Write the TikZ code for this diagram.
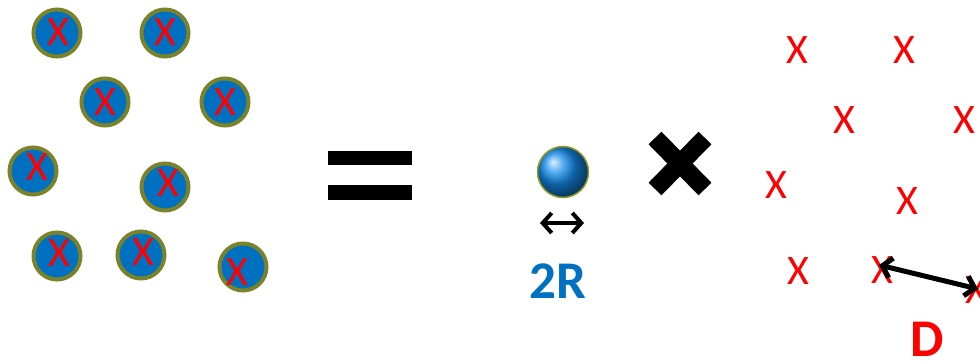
\documentclass[tikz,border=0pt]{standalone}
\usepackage{fontspec}
\setmainfont{Carlito}
\usetikzlibrary{arrows.meta}
\definecolor{cblue}{RGB}{0,112,192}
\definecolor{cball}{RGB}{20,140,235}
\definecolor{colive}{RGB}{122,130,42}
\definecolor{cred}{RGB}{255,0,0}
\tikzset{
  disc/.style={circle,fill=cblue,draw=colive,line width=4pt,minimum size=47pt,inner sep=0pt},
  xmark/.style={text=cred,font=\fontsize{42}{42}\selectfont,inner sep=0pt},
  darr/.style={{Straight Barb[length=9pt,width=20pt]}-{Straight Barb[length=9pt,width=20pt]}},
  bigtxt/.style={font=\fontsize{53}{53}\selectfont\bfseries,inner sep=0pt}
}
\begin{document}
\begin{tikzpicture}[x=1pt,y=-1pt]
\useasboundingbox (0,0) rectangle (980,363);
% left discs
\foreach \n/\cx/\cy in {1/57/33,2/165/33,3/105/102,4/225/102,5/33/171,6/165/187,7/57/256,8/141/255,9/243/267}
  \node[disc] (c\n) at (\cx,\cy) {};
\foreach \n/\xx/\yy in {1/58/32,2/165/32,3/105/102,4/225/102,5/37/167,6/168/183,7/59/253,8/143/252,9/237/272}{
  \node[xmark] (lx\n) at (\xx,\yy) {X};
  \node[xmark] (r\n) at (\xx+739,\yy+18) {X};
}
% equal sign
\fill (328,151) rectangle (412,165);
\fill (328,185) rectangle (412,200);
% multiplication sign
\coordinate (m1) at (655,138); \coordinate (m2) at (705,189);
\coordinate (m3) at (705,138); \coordinate (m4) at (655,189);
\draw[line width=18pt] (m1) -- (m2);
\draw[line width=18pt] (m3) -- (m4);
% ball
\node[circle,minimum size=51pt,inner sep=0pt,shading=ball,ball color=cball,draw=colive!80!yellow,line width=1.5pt] (ball) at (563,172) {};
\coordinate (a1) at (540,223); \coordinate (a2) at (584,223);
\draw[darr,line width=4pt] (a1) -- (a2);
\node[bigtxt,text=cblue] (tr) at (558,281) {2R};
% D arrow
\coordinate (d1) at (879,265); \coordinate (d2) at (978,289);
\draw[darr,line width=5pt] (d1) -- (d2);
\node[bigtxt,text=cred] (td) at (927,339) {D};
\end{tikzpicture}
\end{document}
